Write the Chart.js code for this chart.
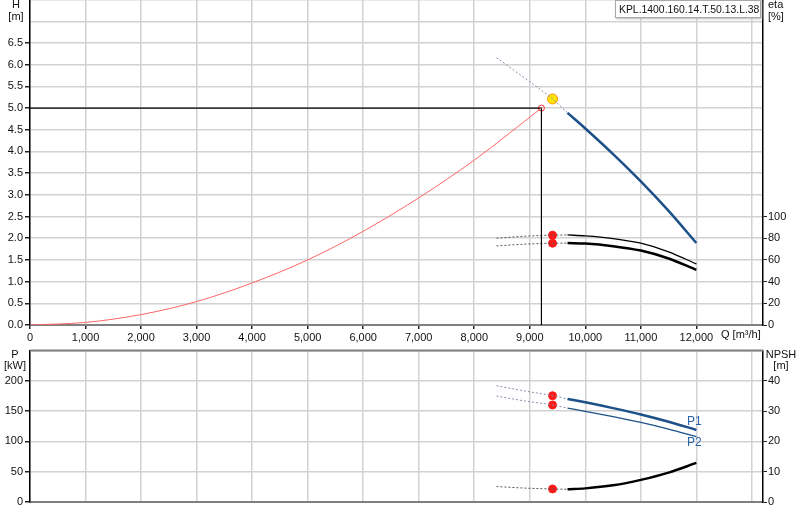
<!DOCTYPE html>
<html>
<head>
<meta charset="utf-8">
<script src="https://cdn.jsdelivr.net/npm/chart.js@4.4.1/dist/chart.umd.min.js"></script>
<style>
html, body { margin: 0; padding: 0; background: #fff; }
#wrap { position: relative; width: 800px; height: 520px; overflow: hidden; }
#top { position: absolute; left: 0; top: -9px; }
#bot { position: absolute; left: 0; top: 342px; }
#legend {
  position: absolute; left: 615px; top: 0; width: 146px; height: 18px;
  border: 1px solid #a8a8a8; box-shadow: 1px 1px 2px #b8b8b8; background: #fff;
  font: 10.4px 'Liberation Sans', Arial, sans-serif; color: #111;
  line-height: 17px; padding-left: 3px; box-sizing: border-box; white-space: nowrap;
}
</style>
</head>
<body>
<div id="wrap">
  <canvas id="top" width="800" height="354"></canvas>
  <canvas id="bot" width="800" height="178"></canvas>
  <div id="legend">KPL.1400.160.14.T.50.13.L.38</div>
</div>
<script>
// ---- data ----
// Q axis ticks [m³/h]
var qTicks = [0, 1000, 2000, 3000, 4000, 5000, 6000, 7000, 8000, 9000, 10000, 11000, 12000, 13000];

// system curve (H over Q)
var sysQ = [0, 1000, 2000, 3000, 4000, 5000, 6000, 7000, 8000, 9210];
var sysH = [0, 0.06, 0.24, 0.54, 0.97, 1.50, 2.16, 2.93, 3.80, 5.00];
// duty point
var dutyQ = 9210;
var dutyH = 5.0;
// best efficiency point (yellow) / red markers
var bepQ = 9410;
var bepH = 5.21;

// pump curve, dashed part and solid part
var dashQ = [8400, 8900, 9410, 9680];
var curveQ = [9680, 10000, 10500, 11000, 11500, 12000];
var pumpDashH = [6.16, 5.70, 5.21, 4.89];
var pumpH = [4.89, 4.53, 3.94, 3.31, 2.63, 1.89];

// efficiency [%]
var eta1Dash = [80.0, 81.8, 82.8, 83.0];
var eta1 = [83.0, 82.2, 79.7, 75.4, 67.5, 56.3];
var eta2Dash = [72.9, 74.5, 75.4, 75.5];
var eta2 = [75.5, 75.1, 72.7, 68.6, 61.3, 50.8];
var etaDots = [82.8, 75.4];

// power [kW]
var p1Dash = [192, 183.5, 175.5, 170.2];
var p1 = [170.2, 164.6, 155, 144.5, 132.5, 119];
var p2Dash = [175, 167, 160.2, 155];
var p2 = [155, 149.8, 141, 131.5, 120.5, 108];
var pDots = [175.5, 160.2];

// NPSH [m]
var npshDash = [5.1, 4.6, 4.3, 4.2];
var npsh = [4.2, 4.5, 5.5, 7.3, 9.7, 12.9];
var npshDot = 4.3;

// ---- helpers ----
Chart.defaults.font.family = "'Liberation Sans', Arial, sans-serif";
Chart.defaults.font.size = 11;
Chart.defaults.color = '#111';

function pts(xs, ys) {
  return xs.map(function (x, i) { return { x: x, y: ys[i] }; });
}
function line(xs, ys, axis, color, width, dash, straight) {
  return {
    data: pts(xs, ys), yAxisID: axis, showLine: true,
    borderColor: color, borderWidth: width, borderDash: dash || [],
    pointRadius: 0, fill: false,
    tension: straight ? 0 : 0.4,
    cubicInterpolationMode: straight ? 'default' : 'monotone'
  };
}
function dots(xs, ys, axis, bg, border, r) {
  return {
    data: pts(xs, ys), yAxisID: axis, showLine: false,
    pointRadius: r, pointBackgroundColor: bg, pointBorderColor: border,
    pointBorderWidth: 1
  };
}
function hideAbove(lim) {
  return function (c) { return c.tick && c.tick.value <= lim ? '#222' : 'rgba(0,0,0,0)'; };
}
function fitY(w) {
  return function (s) { s.width = w; };
}
function fitX(h) {
  return function (s) { s.height = h; };
}
function setQTicks(s) {
  s.ticks = qTicks.map(function (v) { return { value: v }; });
}
// axis titles drawn on canvas (y relative to the plot area top)
function textPlugin(items) {
  return {
    id: 'texts',
    afterDraw: function (chart) {
      var ctx = chart.ctx;
      var top = chart.chartArea.top;
      ctx.save();
      ctx.textBaseline = 'middle';
      items.forEach(function (t) {
        ctx.font = (t.size || 11) + "px 'Liberation Sans', Arial, sans-serif";
        ctx.fillStyle = t.color || '#111';
        ctx.textAlign = t.align || 'center';
        ctx.fillText(t.text, t.x, top + t.y);
      });
      ctx.restore();
    }
  };
}
// put the plot area at a fixed spot on the page
function placeCanvas(chart, el, pageTop) {
  el.style.top = (pageTop - chart.chartArea.top) + 'px';
}

var gridColor = '#d2d2d2';
var blue = '#1c5088';
var dashBlue = '#8090a8';
var dashBlack = '#555';

// ---- top chart: H and eta ----
var topEl = document.getElementById('top');
var topChart = new Chart(topEl.getContext('2d'), {
  type: 'scatter',
  data: {
    datasets: [
      line(sysQ, sysH, 'y', '#ff6666', 1),
      line([0, dutyQ, dutyQ], [dutyH, dutyH, 0], 'y', '#000', 1.2, null, true),
      dots([dutyQ], [dutyH], 'y', 'rgba(255,255,255,0)', '#ff3030', 3),
      line(dashQ, pumpDashH, 'y', dashBlue, 1, [2, 2]),
      line(curveQ, pumpH, 'y', blue, 2.5),
      line(dashQ, eta1Dash, 'y1', dashBlack, 1, [2, 2]),
      line(curveQ, eta1, 'y1', '#000', 1.3),
      line(dashQ, eta2Dash, 'y1', dashBlack, 1, [2, 2]),
      line(curveQ, eta2, 'y1', '#000', 2.5),
      dots([bepQ, bepQ], etaDots, 'y1', '#ff1a1a', '#ff1a1a', 4),
      dots([bepQ], [bepH], 'y', '#ffe600', '#ff9000', 5)
    ]
  },
  options: {
    responsive: false,
    animation: false,
    layout: { padding: 0 },
    plugins: { legend: { display: false }, tooltip: { enabled: false } },
    scales: {
      x: {
        type: 'linear', min: 0, max: 13200,
        afterBuildTicks: setQTicks,
        ticks: {
          autoSkip: false, maxRotation: 0, padding: 2,
          callback: function (v) { return v <= 12000 ? v.toLocaleString('en-US') : ''; }
        },
        grid: { color: gridColor, lineWidth: 1.5, tickLength: 4, tickColor: hideAbove(12000) },
        border: { color: '#808080', width: 2 },
        afterFit: fitX(20)
      },
      y: {
        min: 0, max: 7.5,
        ticks: {
          stepSize: 0.5, maxTicksLimit: 30, autoSkip: false, padding: 2,
          callback: function (v) { return v <= 6.5 ? v.toFixed(1) : ''; }
        },
        grid: { color: gridColor, lineWidth: 1.5, tickLength: 5, tickColor: hideAbove(6.5) },
        border: { color: '#000', width: 1.5 },
        afterFit: fitY(30)
      },
      y1: {
        position: 'right', min: 0, max: 300,
        ticks: {
          stepSize: 20, maxTicksLimit: 30, autoSkip: false, padding: 1,
          callback: function (v) { return v <= 100 ? v : ''; }
        },
        grid: { drawOnChartArea: false, tickLength: 4, tickColor: hideAbove(100) },
        border: { color: '#000', width: 1.5 },
        afterFit: fitY(37)
      }
    }
  },
  plugins: [textPlugin([
    { text: 'H', x: 16, y: 5 },
    { text: '[m]', x: 16, y: 17 },
    { text: 'eta', x: 768, y: 5, align: 'left' },
    { text: '[%]', x: 768, y: 17, align: 'left' },
    { text: 'Q [m³/h]', x: 721, y: 335, align: 'left' }
  ])]
});
placeCanvas(topChart, topEl, 0);

// ---- bottom chart: P and NPSH ----
var pLabels = {
  id: 'pLabels',
  afterDatasetsDraw: function (chart) {
    var ctx = chart.ctx;
    var xs = chart.scales.x.getPixelForValue(curveQ[curveQ.length - 1]);
    var y1 = chart.scales.y.getPixelForValue(p1[p1.length - 1]);
    var y2 = chart.scales.y.getPixelForValue(p2[p2.length - 1]);
    ctx.save();
    ctx.font = "12px 'Liberation Sans', Arial, sans-serif";
    ctx.fillStyle = '#2a64a8';
    ctx.textAlign = 'center';
    ctx.textBaseline = 'middle';
    ctx.fillText('P1', xs - 2, y1 - 8);
    ctx.fillText('P2', xs - 2, y2 + 6);
    // top frame line
    var a = chart.chartArea;
    ctx.strokeStyle = '#808080';
    ctx.lineWidth = 2;
    ctx.beginPath();
    ctx.moveTo(a.left, a.top);
    ctx.lineTo(a.right, a.top);
    ctx.stroke();
    ctx.restore();
  }
};

var botEl = document.getElementById('bot');
var botChart = new Chart(botEl.getContext('2d'), {
  type: 'scatter',
  data: {
    datasets: [
      line(dashQ, p1Dash, 'y', dashBlue, 1, [2, 2]),
      line(curveQ, p1, 'y', blue, 2.5),
      line(dashQ, p2Dash, 'y', dashBlue, 1, [2, 2]),
      line(curveQ, p2, 'y', blue, 1.3),
      line(dashQ, npshDash, 'y1', dashBlack, 1, [2, 2]),
      line(curveQ, npsh, 'y1', '#000', 2.5),
      dots([bepQ, bepQ], pDots, 'y', '#ff1a1a', '#ff1a1a', 4),
      dots([bepQ], [npshDot], 'y1', '#ff1a1a', '#ff1a1a', 4)
    ]
  },
  options: {
    responsive: false,
    animation: false,
    layout: { padding: 0 },
    plugins: { legend: { display: false }, tooltip: { enabled: false } },
    scales: {
      x: {
        type: 'linear', min: 0, max: 13200,
        afterBuildTicks: setQTicks,
        ticks: { display: false },
        grid: { color: gridColor, lineWidth: 1.5, drawTicks: false },
        border: { color: '#808080', width: 2 },
        afterFit: fitX(18)
      },
      y: {
        min: 0, max: 250,
        ticks: {
          stepSize: 50, autoSkip: false, padding: 2,
          callback: function (v) { return v <= 200 ? v : ''; }
        },
        grid: { color: gridColor, lineWidth: 1.5, tickLength: 5, tickColor: hideAbove(200) },
        border: { color: '#000', width: 1.5 },
        afterFit: fitY(30)
      },
      y1: {
        position: 'right', min: 0, max: 50,
        ticks: {
          stepSize: 10, autoSkip: false, padding: 1,
          callback: function (v) { return v <= 40 ? v : ''; }
        },
        grid: { drawOnChartArea: false, tickLength: 4, tickColor: hideAbove(40) },
        border: { color: '#000', width: 1.5 },
        afterFit: fitY(37)
      }
    }
  },
  plugins: [pLabels, textPlugin([
    { text: 'P', x: 15, y: 4 },
    { text: '[kW]', x: 15, y: 15 },
    { text: 'NPSH', x: 781, y: 4 },
    { text: '[m]', x: 781, y: 15 }
  ])]
});
placeCanvas(botChart, botEl, 351);
</script>
</body>
</html>
